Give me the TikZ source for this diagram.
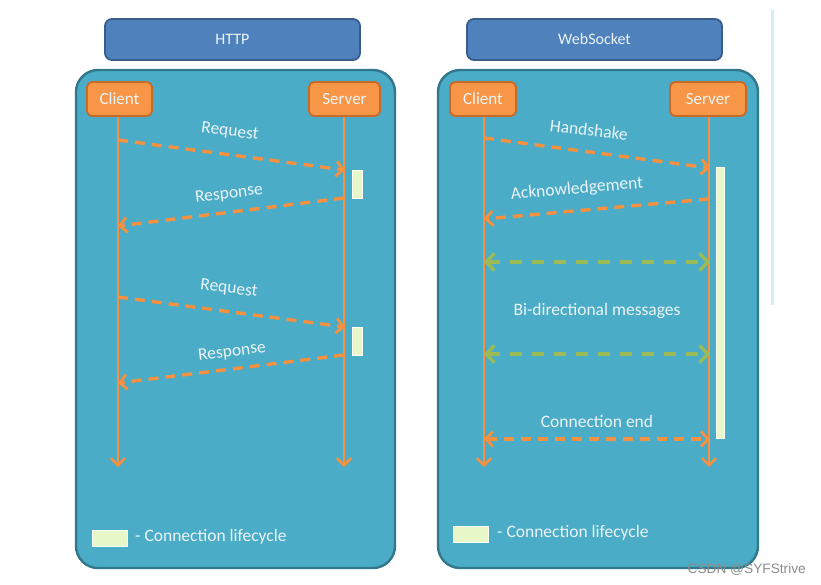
\documentclass[tikz,border=0pt]{standalone}
\usepackage{fontspec}
\setmainfont{Carlito}
\newfontfamily\wmfont{Liberation Sans}
\usetikzlibrary{arrows.meta}
\definecolor{hdrfill}{RGB}{79,129,189}
\definecolor{hdrdraw}{RGB}{56,93,138}
\definecolor{panelfill}{RGB}{74,172,198}
\definecolor{paneldraw}{RGB}{49,120,140}
\definecolor{orfill}{RGB}{247,150,70}
\definecolor{ordraw}{RGB}{200,105,40}
\definecolor{orline}{RGB}{245,145,65}
\definecolor{grline}{RGB}{155,187,89}
\definecolor{barfill}{RGB}{232,247,200}
\definecolor{txt}{RGB}{236,244,247}
\definecolor{faint}{RGB}{215,236,243}
\tikzset{
  header/.style={draw=hdrdraw, line width=1.8pt, fill=hdrfill, rounded corners=7pt, minimum width=255pt, minimum height=41pt, inner sep=0pt, text=txt, font=\fontsize{16}{18}\selectfont},
  panel/.style={draw=paneldraw, line width=2.4pt, fill=panelfill, rounded corners=22pt},
  actor/.style={draw=ordraw, line width=1.8pt, fill=orfill, rounded corners=5pt, minimum height=34pt, inner sep=0pt, text=txt, font=\fontsize{17}{19}\selectfont},
  lifeline/.style={draw=orline, line width=2.6pt, -{Straight Barb[length=7pt,width=14pt,line width=2.6pt]}},
  msg/.style={draw=orline, line width=3.4pt, dash pattern=on 10pt off 7pt, -{Straight Barb[length=7pt,width=15pt,line width=2.8pt]}},
  bimsg/.style={draw=orline, line width=3.4pt, dash pattern=on 10pt off 7pt, {Straight Barb[length=7pt,width=15pt,line width=2.8pt]}-{Straight Barb[length=7pt,width=15pt,line width=2.8pt]}},
  grmsg/.style={draw=grline, line width=4.2pt, dash pattern=on 12pt off 10pt, {Straight Barb[length=8pt,width=17pt,line width=3.4pt]}-{Straight Barb[length=8pt,width=17pt,line width=3.4pt]}},
  lbl/.style={text=txt, font=\fontsize{17.5}{20}\selectfont, inner sep=0pt},
  lifebar/.style={draw=white!85!barfill, line width=0.6pt, fill=barfill},
}
\begin{document}
\begin{tikzpicture}[x=1pt,y=-1pt]
\fill[white] (0,0) rectangle (821,584);
\useasboundingbox (0,0) rectangle (821,584);
% faint artifact line at right edge
\fill[faint] (771,10) rectangle (774,305);
% headers
\node[header] (hhttp) at (232.5,39.5) {HTTP};
\node[header] (hws) at (594.5,39.5) {WebSocket};
% panels
\draw[panel] (76,70) rectangle (395,568);
\draw[panel] (438,70) rectangle (758,568);
% ---------------- HTTP ----------------
\node[actor, minimum width=65pt] (hc) at (119.5,99) {Client};
\node[actor, minimum width=71pt] (hs) at (344.5,99) {Server};
\coordinate (hcend) at (118,467);
\coordinate (hsend) at (344,467);
\draw[lifeline] (hc.south -| hcend) -- (hcend);
\draw[lifeline] (hs.south -| hsend) -- (hsend);
\node[lifebar, minimum width=10pt, minimum height=28pt, inner sep=0pt] (hbar1) at (357,184) {};
\node[lifebar, minimum width=10pt, minimum height=28pt, inner sep=0pt] (hbar2) at (357,341) {};
\coordinate (hc1) at (118,140); \coordinate (hs1) at (345,170);
\coordinate (hs2) at (344,198); \coordinate (hc2) at (118,226);
\coordinate (hc3) at (118,297); \coordinate (hs3) at (345,327);
\coordinate (hs4) at (344,355); \coordinate (hc4) at (118,383);
\draw[msg] (hc1) -- (hs1);
\draw[msg] (hs2) -- (hc2);
\draw[msg] (hc3) -- (hs3);
\draw[msg] (hs4) -- (hc4);
\node[lbl, rotate=-7] (lreq1) at (230,132) {Request};
\node[lbl, rotate=7] (lres1) at (229,194) {Response};
\node[lbl, rotate=-7] (lreq2) at (229,289) {Request};
\node[lbl, rotate=7] (lres2) at (232,352) {Response};
\node[lifebar, minimum width=35pt, minimum height=16pt, inner sep=0pt] (hleg) at (109.5,538) {};
\node[lbl, anchor=west] (hlegt) at (135,537) {- Connection lifecycle};
% ---------------- WebSocket ----------------
\node[actor, minimum width=66pt] (wc) at (483,99) {Client};
\node[actor, minimum width=76pt] (wsv) at (708,99) {Server};
\coordinate (wcend) at (484,467);
\coordinate (wsend) at (709,467);
\draw[lifeline] (wc.south -| wcend) -- (wcend);
\draw[lifeline] (wsv.south -| wsend) -- (wsend);
\node[lifebar, minimum width=8pt, minimum height=271pt, inner sep=0pt] (wbar) at (720,302.5) {};
\coordinate (wc1) at (484,138); \coordinate (ws1) at (710,168);
\coordinate (ws2) at (709,199); \coordinate (wc2) at (484,219);
\coordinate (wc3) at (484,262); \coordinate (ws3) at (710,262);
\coordinate (wc4) at (484,354); \coordinate (ws4) at (710,354);
\coordinate (wc5) at (484,439); \coordinate (ws5) at (710,439);
\draw[msg] (wc1) -- (ws1);
\draw[msg] (ws2) -- (wc2);
\draw[grmsg] (wc3) -- (ws3);
\draw[grmsg] (wc4) -- (ws4);
\draw[bimsg] (wc5) -- (ws5);
\node[lbl, rotate=-7] (lhs) at (589,130) {Handshake};
\node[lbl, rotate=5] (lack) at (577,189) {Acknowledgement};
\node[lbl] (lbi) at (597,311) {Bi-directional messages};
\node[lbl] (lend) at (597,421) {Connection end};
\node[lifebar, minimum width=35pt, minimum height=16pt, inner sep=0pt] (wleg) at (470.5,534) {};
\node[lbl, anchor=west] (wlegt) at (497,533) {- Connection lifecycle};
% watermark
\node[text=black!45, font=\wmfont\fontsize{13.7}{15}\selectfont, inner sep=0pt, anchor=east] (wm) at (806,569) {CSDN @SYFStrive};
\end{tikzpicture}
\end{document}
